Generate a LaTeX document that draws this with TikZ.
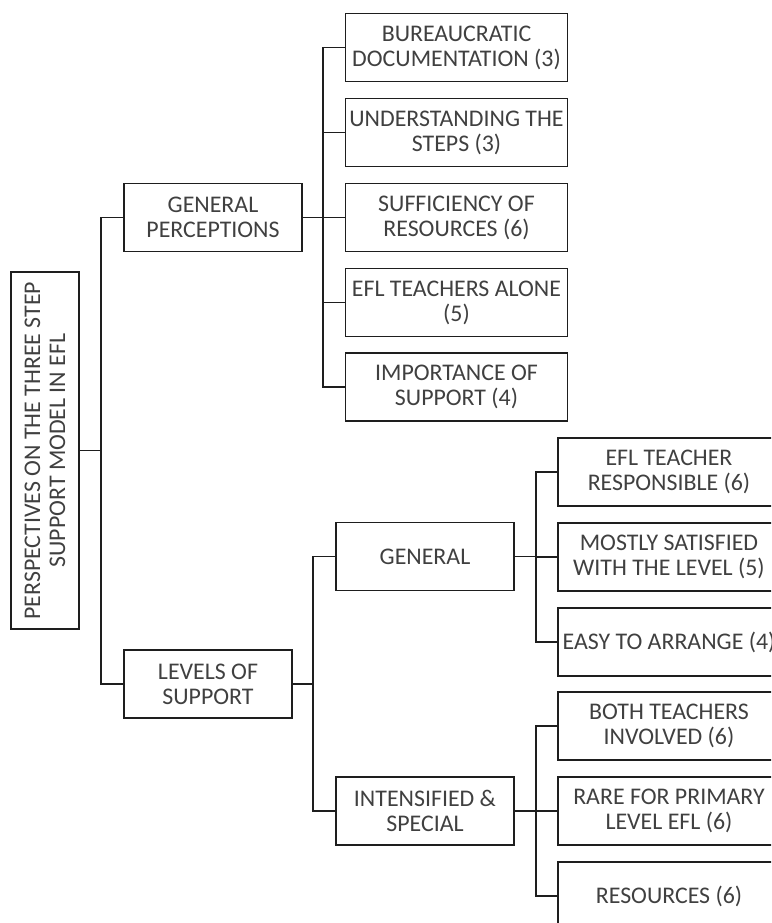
\documentclass[tikz,border=0pt]{standalone}
\usepackage{fontspec}
\setmainfont{Carlito}
\definecolor{txtgray}{HTML}{404040}
\definecolor{linegray}{HTML}{1E1E1E}
\tikzset{
  box/.style={draw=linegray, line width=1pt, align=center, inner sep=0pt,
    text=txtgray, font=\fontsize{17.9}{18.8}\selectfont, minimum height=51pt},
  topbox/.style={box, minimum width=133.5pt},
  leafbox/.style={box, minimum width=166.5pt},
  link/.style={draw=linegray, line width=1pt}
}
\begin{document}
\begin{tikzpicture}[x=0.75pt,y=-0.75pt]
		\useasboundingbox (0,0) rectangle (771,923);
		\clip (0,0) rectangle (771,923);
		\node[box, rotate=90, minimum width=267.75pt] (root) at (45,450.5)
			{PERSPECTIVES ON THE THREE STEP\\SUPPORT MODEL IN EFL};
		\node[topbox] (gp) at (213,217.5) {GENERAL\\PERCEPTIONS};
		\node[topbox, minimum width=126pt] (ls) at (208,684) {LEVELS OF\\SUPPORT};
		\node[leafbox] (bd) at (456.5,47.5) {BUREAUCRATIC\\DOCUMENTATION (3)};
		\node[leafbox] (us) at (456.5,132.5) {UNDERSTANDING THE\\STEPS (3)};
		\node[leafbox] (sr) at (456.5,217.5) {SUFFICIENCY OF\\RESOURCES (6)};
		\node[leafbox] (ea) at (456.5,302.5) {EFL TEACHERS ALONE\\(5)};
		\node[leafbox] (is) at (456.5,387) {IMPORTANCE OF\\SUPPORT (4)};
		\node[topbox] (gen) at (425,556.5) {GENERAL};
		\node[topbox] (int) at (425,811) {INTENSIFIED \&\\SPECIAL};
		\node[leafbox] (tr) at (669,472) {EFL TEACHER\\RESPONSIBLE (6)};
		\node[leafbox] (ms) at (669,557) {MOSTLY SATISFIED\\WITH THE LEVEL (5)};
		\node[leafbox] (ar) at (669,642) {EASY TO ARRANGE (4)};
		\node[leafbox] (bt) at (669,726) {BOTH TEACHERS\\INVOLVED (6)};
		\node[leafbox] (rp) at (669,811) {RARE FOR PRIMARY\\LEVEL EFL (6)};
		\node[leafbox] (rs) at (669,896) {RESOURCES (6)};
		\coordinate (j0) at (101,450.5);
		\coordinate (j1) at (323,217.5);
		\coordinate (j2) at (313,684);
		\coordinate (j3) at (536,556.5);
		\coordinate (j4) at (536,811);
		\draw[link] (root.south) -- (j0);
		\draw[link] (gp.west) -| (j0) |- (ls.west);
		\draw[link] (gp.east) -- (j1);
		\draw[link] (bd.west) -| (j1) |- (is.west);
		\foreach \n in {us,sr,ea} \draw[link] (j1|-\n.west) -- (\n.west);
		\draw[link] (ls.east) -- (j2);
		\draw[link] (gen.west) -| (j2) |- (int.west);
		\draw[link] (gen.east) -- (j3);
		\draw[link] (tr.west) -| (j3) |- (ar.west);
		\draw[link] (j3|-ms.west) -- (ms.west);
		\draw[link] (int.east) -- (j4);
		\draw[link] (bt.west) -| (j4) |- (rs.west);
		\draw[link] (j4|-rp.west) -- (rp.west);
	    \end{tikzpicture}
\end{document}
